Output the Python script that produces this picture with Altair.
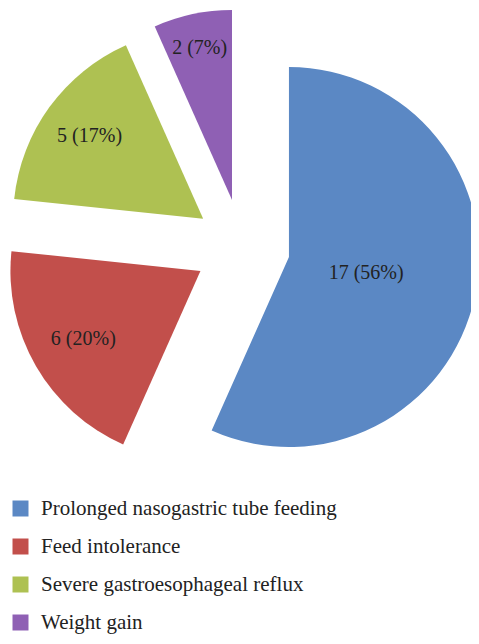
import altair as alt
import pandas as pd

categories = ["Prolonged nasogastric tube feeding", "Feed intolerance",
              "Severe gastroesophageal reflux", "Weight gain"]
values = [17, 6, 5, 2]
percents = [56, 20, 17, 7]
colors = ["#5B88C4", "#C24F4B", "#AEC152", "#8F60B4"]

df = pd.DataFrame({"category": categories, "value": values, "pct": percents,
                   "order": list(range(len(categories)))})

CX, CY = 234, 239      # pie centre (plot px)
EXPLODE = 48           # explode distance
R = 190                # pie radius

base = alt.Chart(df).transform_window(
    cum="sum(value)", sort=[alt.SortField("order")], frame=[None, 0]
).transform_joinaggregate(
    total="sum(value)"
).transform_calculate(
    start="(datum.cum - datum.value) / datum.total * 2 * PI",
    end="datum.cum / datum.total * 2 * PI",
).transform_calculate(
    mid="(datum.start + datum.end) / 2",
    span="(datum.end - datum.start) * 180 / PI",
).transform_calculate(
    cx=f"{CX} + {EXPLODE} * sin(datum.mid)",
    cy=f"{CY} - {EXPLODE} * cos(datum.mid)",
    lr="166 - 0.427 * datum.span",
    label="datum.value + ' (' + datum.pct + '%)'",
).transform_calculate(
    lx="datum.cx + datum.lr * sin(datum.mid)",
    ly="datum.cy - datum.lr * cos(datum.mid)",
)

arcs = base.mark_arc(radius=R).encode(
    theta=alt.Theta("start:Q", scale=None, stack=None),
    theta2="end:Q",
    x=alt.X("cx:Q", scale=None, axis=None),
    y=alt.Y("cy:Q", scale=None, axis=None),
    color=alt.Color(
        "category:N",
        scale=alt.Scale(domain=categories, range=colors),
        sort=categories,
        legend=alt.Legend(
            title=None, orient="none", legendX=2, legendY=490,
            symbolType="square", symbolSize=256, symbolStrokeWidth=0,
            labelFont="Liberation Serif", labelFontSize=21, labelColor="#222222",
            labelOffset=10, rowPadding=16, padding=0, labelLimit=400,
        ),
    ),
)

labels = base.mark_text(font="Liberation Serif", fontSize=20, color="#222222").encode(
    x=alt.X("lx:Q", scale=None, axis=None),
    y=alt.Y("ly:Q", scale=None, axis=None),
    text="label:N",
)

chart = alt.layer(arcs, labels).properties(
    width=463, height=628, padding=0, autosize=alt.AutoSizeParams(type="none")
).configure_view(stroke=None)

chart.save("out.html", embed_options={"renderer": "svg", "actions": False})
